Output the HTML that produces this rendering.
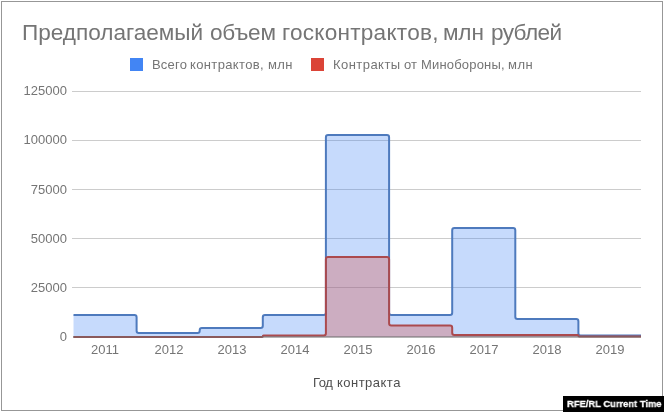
<!DOCTYPE html>
<html><head><meta charset="utf-8">
<style>
html,body{margin:0;padding:0;background:#fff;width:664px;height:412px;overflow:hidden;position:relative}
body{font-family:"Liberation Sans",sans-serif;color:#757575}
.frame{position:absolute;left:1px;top:1px;width:662px;height:410px;box-sizing:border-box;border:1px solid #979797}
.t{position:absolute;white-space:nowrap;line-height:1;will-change:transform}
.ti{top:21.5px;font-size:22.6px;color:#757575}
.sw{position:absolute;width:13px;height:13px}
.lg{top:58px;font-size:13px;color:#757575}
.ax{top:376px;font-size:13px;color:#4e4e4e}
.yl{font-size:13px;color:#757575;text-align:right;width:60px}
.xl{font-size:13px;color:#757575;text-align:center;width:60px}
#badge{position:absolute;left:563px;top:396px;width:101px;height:16px;background:#000}
#badge span{will-change:transform;transform:scaleX(0.95);transform-origin:0 0;position:absolute;left:4px;top:3px;font-size:9.9px;font-weight:bold;color:#fff;-webkit-text-stroke:0.3px #fff;white-space:nowrap;line-height:1}
svg{position:absolute;left:0;top:0}
</style></head>
<body>
<div class="frame"></div>
<div class="t ti" style="left:22.1px;letter-spacing:-0.02px">Предполагаемый</div>
<div class="t ti" style="left:209.5px;letter-spacing:-0.26px">объем</div>
<div class="t ti" style="left:282.1px;letter-spacing:0.24px">госконтрактов,</div>
<div class="t ti" style="left:443.2px;letter-spacing:-0.16px">млн</div>
<div class="t ti" style="left:490.7px;letter-spacing:-0.62px">рублей</div>

<div class="sw" style="left:130px;top:58px;background:#4285f4"></div>
<div class="t lg" style="left:151.8px;letter-spacing:0.2px">Всего</div>
<div class="t lg" style="left:190.2px;letter-spacing:0.36px">контрактов,</div>
<div class="t lg" style="left:267.6px;letter-spacing:0.32px">млн</div>
<div class="sw" style="left:311px;top:58px;background:#db4437"></div>
<div class="t lg" style="left:332.8px;letter-spacing:0.45px">Контракты</div>
<div class="t lg" style="left:404.3px;letter-spacing:0">от</div>
<div class="t lg" style="left:420.9px;letter-spacing:0.18px">Минобороны,</div>
<div class="t lg" style="left:507.8px;letter-spacing:0.5px">млн</div>

<svg width="664" height="412" viewBox="0 0 664 412">
  <g stroke="#cccccc" stroke-width="1" shape-rendering="crispEdges">
    <line x1="72" y1="91.5" x2="641" y2="91.5"/>
    <line x1="72" y1="140.5" x2="641" y2="140.5"/>
    <line x1="72" y1="189.5" x2="641" y2="189.5"/>
    <line x1="72" y1="238.5" x2="641" y2="238.5"/>
    <line x1="72" y1="287.5" x2="641" y2="287.5"/>
  </g>
  <!-- blue fill -->
  <path fill="#4285f4" fill-opacity="0.3" d="M73.5 315.0 L134.40 315.00 Q136.6 315.0 136.60 317.20 L136.60 330.80 Q136.6 333.0 138.80 333.00 L197.50 333.00 Q199.7 333.0 199.70 330.80 L199.70 330.20 Q199.7 328.0 201.90 328.00 L260.60 328.00 Q262.8 328.0 262.80 325.80 L262.80 317.20 Q262.8 315.0 265.00 315.00 L323.70 315.00 Q325.9 315.0 325.90 312.80 L325.90 137.20 Q325.9 135.0 328.10 135.00 L386.90 135.00 Q389.1 135.0 389.10 137.20 L389.10 312.80 Q389.1 315.0 391.30 315.00 L450.00 315.00 Q452.2 315.0 452.20 312.80 L452.20 230.20 Q452.2 228.0 454.40 228.00 L513.10 228.00 Q515.3 228.0 515.30 230.20 L515.30 316.80 Q515.3 319.0 517.50 319.00 L576.20 319.00 Q578.4 319.0 578.40 321.20 L578.40 333.30 Q578.4 335.5 580.60 335.50 L641.0 335.5 L641 337 L73.5 337 Z"/>
  <!-- red fill -->
  <path fill="#db4437" fill-opacity="0.3" d="M73.5 337.0 L262.05 337.00 Q262.8 337.0 262.80 336.25 L262.80 336.25 Q262.8 335.5 263.55 335.50 L323.70 335.50 Q325.9 335.5 325.90 333.30 L325.90 259.20 Q325.9 257.0 328.10 257.00 L386.90 257.00 Q389.1 257.0 389.10 259.20 L389.10 323.30 Q389.1 325.5 391.30 325.50 L450.00 325.50 Q452.2 325.5 452.20 327.70 L452.20 332.80 Q452.2 335.0 454.40 335.00 L577.65 335.00 Q578.4 335.0 578.40 335.75 L578.40 335.75 Q578.4 336.5 579.15 336.50 L641.0 336.5 L641 337 L73.5 337 Z"/>
  <!-- blue line -->
  <path fill="none" stroke="#4e7abd" stroke-width="2" stroke-linejoin="round" d="M73.5 315.0 L134.40 315.00 Q136.6 315.0 136.60 317.20 L136.60 330.80 Q136.6 333.0 138.80 333.00 L197.50 333.00 Q199.7 333.0 199.70 330.80 L199.70 330.20 Q199.7 328.0 201.90 328.00 L260.60 328.00 Q262.8 328.0 262.80 325.80 L262.80 317.20 Q262.8 315.0 265.00 315.00 L323.70 315.00 Q325.9 315.0 325.90 312.80 L325.90 137.20 Q325.9 135.0 328.10 135.00 L386.90 135.00 Q389.1 135.0 389.10 137.20 L389.10 312.80 Q389.1 315.0 391.30 315.00 L450.00 315.00 Q452.2 315.0 452.20 312.80 L452.20 230.20 Q452.2 228.0 454.40 228.00 L513.10 228.00 Q515.3 228.0 515.30 230.20 L515.30 316.80 Q515.3 319.0 517.50 319.00 L576.20 319.00 Q578.4 319.0 578.40 321.20 L578.40 333.30 Q578.4 335.5 580.60 335.50 L641.0 335.5"/>
  <!-- red line -->
  <path fill="none" stroke="#ab4a4e" stroke-width="2" stroke-linejoin="round" d="M73.5 337.0 L262.05 337.00 Q262.8 337.0 262.80 336.25 L262.80 336.25 Q262.8 335.5 263.55 335.50 L323.70 335.50 Q325.9 335.5 325.90 333.30 L325.90 259.20 Q325.9 257.0 328.10 257.00 L386.90 257.00 Q389.1 257.0 389.10 259.20 L389.10 323.30 Q389.1 325.5 391.30 325.50 L450.00 325.50 Q452.2 325.5 452.20 327.70 L452.20 332.80 Q452.2 335.0 454.40 335.00 L577.65 335.00 Q578.4 335.0 578.40 335.75 L578.40 335.75 Q578.4 336.5 579.15 336.50 L641.0 336.5"/>
  <line x1="73" y1="337" x2="641" y2="337" stroke="#6a6a6a" stroke-opacity="0.5" stroke-width="2"/>
</svg>

<div class="t yl" style="left:6.5px;top:84px">125000</div>
<div class="t yl" style="left:6.5px;top:133px">100000</div>
<div class="t yl" style="left:6.5px;top:183px">75000</div>
<div class="t yl" style="left:6.5px;top:232px">50000</div>
<div class="t yl" style="left:6.5px;top:281px">25000</div>
<div class="t yl" style="left:6.5px;top:330px">0</div>

<div class="t xl" style="left:75.46px;top:343px">2011</div>
<div class="t xl" style="left:138.56px;top:343px">2012</div>
<div class="t xl" style="left:201.68px;top:343px">2013</div>
<div class="t xl" style="left:264.78px;top:343px">2014</div>
<div class="t xl" style="left:327.89px;top:343px">2015</div>
<div class="t xl" style="left:391.00px;top:343px">2016</div>
<div class="t xl" style="left:454.11px;top:343px">2017</div>
<div class="t xl" style="left:517.23px;top:343px">2018</div>
<div class="t xl" style="left:580.33px;top:343px">2019</div>

<div class="t ax" style="left:313.3px;letter-spacing:-0.4px">Год</div>
<div class="t ax" style="left:336.9px;letter-spacing:0.48px">контракта</div>

<div id="badge"><span>RFE/RL Current Time</span></div>
</body></html>
